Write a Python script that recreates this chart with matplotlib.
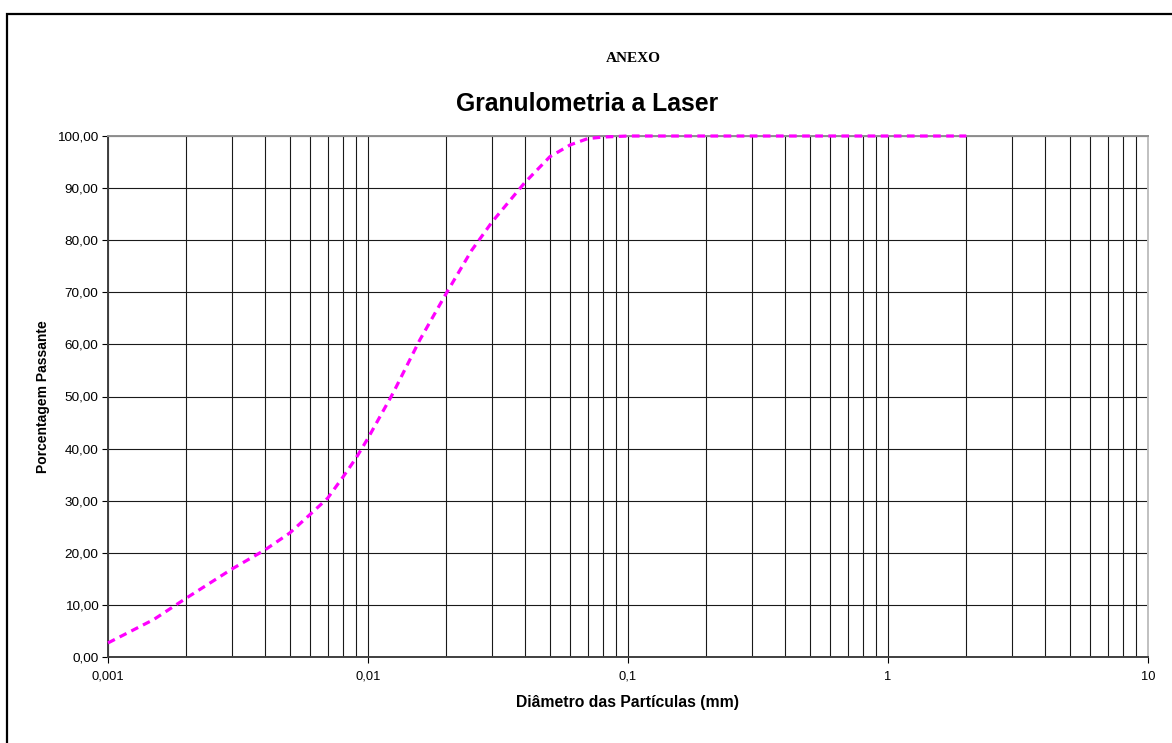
import matplotlib
matplotlib.use("Agg")
import matplotlib.pyplot as plt
from matplotlib.patches import Rectangle
from matplotlib.ticker import FixedLocator, FuncFormatter, NullFormatter

diametro_mm = [0.001, 0.0015, 0.002, 0.003, 0.004, 0.005, 0.006, 0.007, 0.008, 0.009,
               0.01, 0.0125, 0.0158, 0.02, 0.025, 0.03, 0.04, 0.05, 0.06, 0.07,
               0.08, 0.1, 0.2, 0.5, 1.0, 2.0]
passante = [2.7, 7.2, 11.3, 16.9, 20.5, 23.8, 27.4, 30.5, 34.5, 38.2,
            42.0, 50.7, 60.8, 69.8, 78.0, 83.5, 91.0, 96.0, 98.3, 99.5,
            99.8, 100.0, 100.0, 100.0, 100.0, 100.0]

x_major = [0.001, 0.01, 0.1, 1, 10]
x_labels = ["0,001", "0,01", "0,1", "1", "10"]
y_ticks = list(range(0, 101, 10))

plt.rcParams['font.family'] = ['Liberation Sans', 'DejaVu Sans']

fig = plt.figure(figsize=(11.72, 7.43), dpi=100)
fig.patch.set_facecolor('white')

# outer frame
fig.patches.append(Rectangle((7/1172, -0.5), 2.0, 1 - 14/743 + 0.5,
                             transform=fig.transFigure, fill=False,
                             edgecolor='black', linewidth=1.6))

ax = fig.add_axes([108/1172, 1 - 657/743, (1148-108)/1172, (657-136)/743])
ax.set_xscale('log')
ax.set_xlim(0.001, 10)
ax.set_ylim(0, 100)

minors = []
for d in [0.001, 0.01, 0.1, 1]:
    for k in range(2, 10):
        minors.append(d * k)
ax.xaxis.set_major_locator(FixedLocator(x_major))
ax.xaxis.set_minor_locator(FixedLocator(minors))
ax.xaxis.set_major_formatter(FuncFormatter(lambda v, p: x_labels[x_major.index(v)] if v in x_major else ""))
ax.xaxis.set_minor_formatter(NullFormatter())
ax.set_yticks(y_ticks)
ax.yaxis.set_major_formatter(FuncFormatter(lambda v, p: f"{v:.2f}".replace('.', ',')))

ax.grid(True, which='major', axis='both', color='#1a1a1a', linewidth=0.8)
ax.grid(True, which='minor', axis='x', color='#1a1a1a', linewidth=0.8)

ax.tick_params(axis='x', which='major', direction='out', length=4, width=0.8,
               labelsize=9.3, pad=6, color='black')
ax.tick_params(axis='x', which='minor', length=0)
ax.tick_params(axis='y', which='major', direction='out', length=4, width=0.8,
               labelsize=9.7, pad=3, color='black')

for s in ['left', 'bottom']:
    ax.spines[s].set_color('#404040')
    ax.spines[s].set_linewidth(1.4)
ax.spines['top'].set_color('#909090')
ax.spines['top'].set_linewidth(1.4)
ax.spines['right'].set_color('#c0c0c0')
ax.spines['right'].set_linewidth(1.4)

ax.plot(diametro_mm, passante, color='#ff00ff', linewidth=2.3,
        linestyle=(0, (2.4, 1.7)), zorder=5, clip_on=False)

ax.set_xlabel("Diâmetro das Partículas (mm)", fontsize=11.3, fontweight='bold', labelpad=9)
ax.set_ylabel("Porcentagem Passante", fontsize=10, fontweight='bold', labelpad=5)

fig.text(0.5405, 1 - 58/743, "ANEXO", fontsize=11, fontweight='bold',
         family=['Liberation Serif', 'DejaVu Serif'], ha='center', va='center')
fig.text(0.501, 1 - 104/743, "Granulometria a Laser", fontsize=17.8, fontweight='bold',
         ha='center', va='center')

fig.savefig("out.png", dpi=100, facecolor='white')
